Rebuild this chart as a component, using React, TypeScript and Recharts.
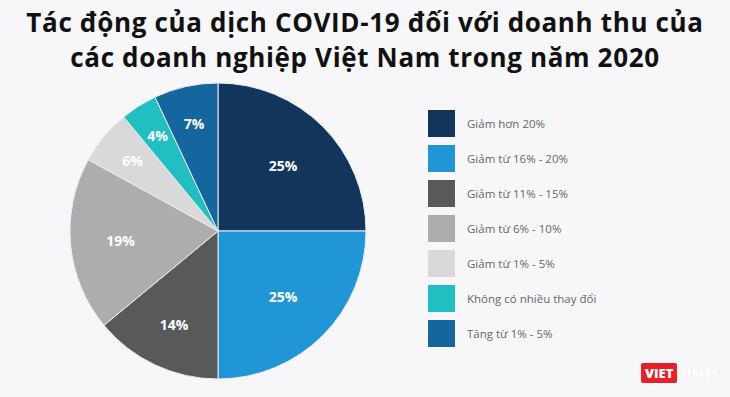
import { PieChart, Pie, Cell } from 'recharts';

const categories = [
  'Giảm hơn 20%',
  'Giảm từ 16% - 20%',
  'Giảm từ 11% - 15%',
  'Giảm từ 6% - 10%',
  'Giảm từ 1% - 5%',
  'Không có nhiều thay đổi',
  'Tăng từ 1% - 5%',
];
const shares = [25, 25, 14, 19, 6, 4, 7];
const colors = ['#12365b', '#2196d6', '#58595b', '#adadad', '#d9d9d9', '#22bfc2', '#15659f'];

const data = categories.map((name, i) => ({ name, value: shares[i] }));

const RADIAN = Math.PI / 180;

// smaller slices get their label pushed a bit further out
const renderLabel = ({ cx, cy, midAngle, outerRadius, value, percent }: any) => {
  const r = outerRadius * (0.79 - percent * 0.675);
  const x = cx + r * Math.cos(-midAngle * RADIAN);
  const y = cy + r * Math.sin(-midAngle * RADIAN);
  return (
    <text
      x={x}
      y={y}
      fill="#fff"
      textAnchor="middle"
      dominantBaseline="central"
      fontSize={14}
      fontWeight={700}
      fontFamily="'Open Sans', sans-serif"
    >
      {`${value}%`}
    </text>
  );
};

export default function App() {
  return (
    <div
      style={{
        position: 'absolute',
        top: 0,
        left: 0,
        width: 730,
        height: 397,
        background: '#f7f7f9',
        overflow: 'hidden',
        fontFamily: "'Open Sans', sans-serif",
      }}
    >
      <div
        style={{
          position: 'absolute',
          top: 5,
          left: 0,
          width: 730,
          textAlign: 'center',
          fontSize: 26,
          fontWeight: 700,
          lineHeight: '35px',
          color: '#111',
          letterSpacing: 0.65,
        }}
      >
        Tác động của dịch COVID-19 đối với doanh thu của
        <br />
        các doanh nghiệp Việt Nam trong năm 2020
      </div>
      <div style={{ position: 'absolute', top: 0, left: 0 }}>
        <PieChart width={440} height={397} margin={{ top: 0, right: 0, bottom: 0, left: 0 }}>
          <Pie
            data={data}
            dataKey="value"
            nameKey="name"
            cx={218}
            cy={231}
            outerRadius={148}
            startAngle={90}
            endAngle={-270}
            stroke="#e8eef3"
            strokeWidth={1}
            label={renderLabel}
            labelLine={false}
            isAnimationActive={false}
          >
            {data.map((d, i) => (
              <Cell key={d.name} fill={colors[i]} />
            ))}
          </Pie>
        </PieChart>
      </div>
      <div style={{ position: 'absolute', left: 428, top: 106 }}>
        {data.map((d, i) => (
          <div key={d.name} style={{ display: 'flex', alignItems: 'center', height: 35 }}>
            <div style={{ width: 27, height: 27, background: colors[i], marginRight: 12 }} />
            <span style={{ fontSize: 11.5, color: '#666' }}>{d.name}</span>
          </div>
        ))}
      </div>
      <div
        style={{
          position: 'absolute',
          left: 641,
          top: 363,
          display: 'flex',
          alignItems: 'center',
          fontWeight: 800,
          fontSize: 13,
        }}
      >
        <span style={{ background: '#e8202a', color: '#fff', padding: '1px 4px', borderRadius: 2 }}>VIET</span>
        <span style={{ color: '#fff', marginLeft: 2, textShadow: '0 0 1px #ddd' }}>TIMES</span>
      </div>
    </div>
  );
}
